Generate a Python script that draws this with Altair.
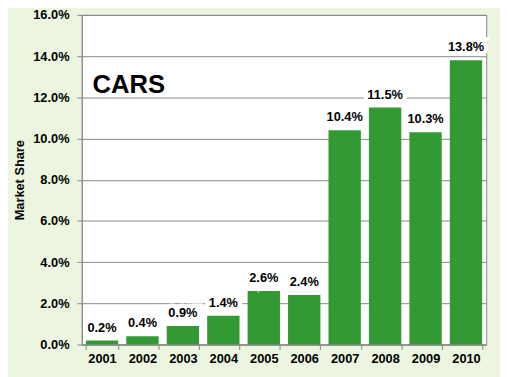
import altair as alt
import pandas as pd

years = ["2001", "2002", "2003", "2004", "2005", "2006", "2007", "2008", "2009", "2010"]
share_pct = [0.2, 0.4, 0.9, 1.4, 2.6, 2.4, 10.4, 11.5, 10.3, 13.8]
y_ticks = [0.0, 0.02, 0.04, 0.06, 0.08, 0.10, 0.12, 0.14, 0.16]
title_text = "CARS"
y_title = "Market Share"

df = pd.DataFrame({"year": years, "share": [v / 100 for v in share_pct]})

FONT = "Liberation Sans"
GRAY = "#868686"
BAR = "#339933"

x_enc = alt.X(
    "year:N",
    title=None,
    sort=years,
    scale=alt.Scale(paddingInner=0.2, paddingOuter=0.1),
    axis=alt.Axis(
        labelAngle=0,
        labelFont=FONT,
        labelFontSize=13,
        labelFontWeight="bold",
        labelColor="black",
        labelPadding=3,
        tickBand="extent",
        tickSize=5,
        tickColor=GRAY,
        domainColor=GRAY,
        grid=False,
    ),
)
y_enc = alt.Y(
    "share:Q",
    title=y_title,
    scale=alt.Scale(domain=[0, 0.16], nice=False),
    axis=alt.Axis(
        values=y_ticks,
        format=".1%",
        labelFont=FONT,
        labelFontSize=13,
        labelFontWeight="bold",
        labelColor="black",
        labelPadding=8,
        tickSize=5,
        tickColor=GRAY,
        domainColor=GRAY,
        gridColor=GRAY,
        gridWidth=1,
        titleFont=FONT,
        titleFontSize=13,
        titleFontWeight="bold",
        titleColor="black",
        titleX=-56,
        titleY=167.5,
    ),
)

base = alt.Chart(df)
bars = base.mark_bar(color=BAR).encode(x=x_enc, y=y_enc)
halo = base.mark_text(
    font=FONT, fontSize=13, fontWeight="bold", baseline="alphabetic", dy=-9,
    color="white", stroke="white", strokeWidth=9,
).encode(x=alt.X("year:N", sort=years), y="share:Q", text=alt.Text("share:Q", format=".1%"))
labels = base.mark_text(
    font=FONT, fontSize=13, fontWeight="bold", baseline="alphabetic", dy=-9, color="black",
).encode(x=alt.X("year:N", sort=years), y="share:Q", text=alt.Text("share:Q", format=".1%"))
cars = alt.Chart(pd.DataFrame({"t": [title_text]})).mark_text(
    font=FONT, fontSize=26, fontWeight="bold", align="left", baseline="alphabetic", color="black",
).encode(x=alt.value(11), y=alt.value(79), text="t:N")

chart = (
    alt.layer(bars, halo, labels, cars)
    .properties(
        width=411,
        height=335,
        background="#EBF5DF",
        autosize=alt.AutoSizeParams(type="none"),
        padding={"left": 75, "top": 4, "right": 14, "bottom": 30},
    )
    .configure_view(fill="white", stroke=GRAY, strokeWidth=1)
)

chart.save("out.html", embed_options={"renderer": "svg", "actions": False})
